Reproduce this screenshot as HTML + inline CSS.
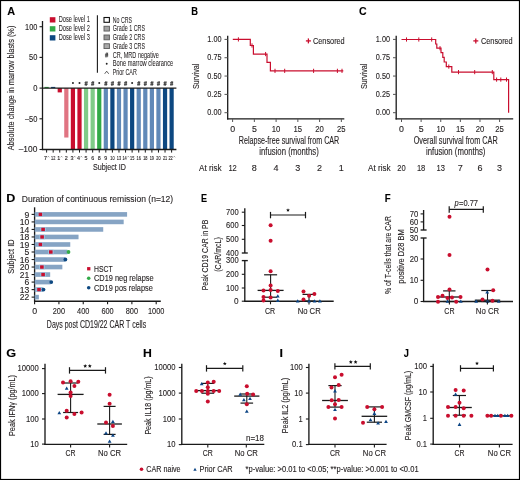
<!DOCTYPE html>
<html><head><meta charset="utf-8"><style>
html,body{margin:0;padding:0;background:#fff;}
body{width:520px;height:480px;overflow:hidden;}
svg{display:block;font-family:"Liberation Sans",sans-serif;-webkit-font-smoothing:antialiased;will-change:transform;}
text{stroke:currentColor;stroke-width:0.12px;}
text.sm{stroke-width:0.06px;}
</style></head><body>
<svg width="520" height="480" viewBox="0 0 520 480" fill="#231f20" color="#231f20">
<rect x="0" y="0" width="520" height="480" fill="#fff"/>
<text x="7.23" y="15" font-size="11.1" textLength="7.86" lengthAdjust="spacingAndGlyphs" font-weight="bold" fill="#000" stroke="#000">A</text>
<line x1="42.5" y1="21" x2="42.5" y2="150.1" stroke="#1a1a1a" stroke-width="1.3"/>
<line x1="39.5" y1="26.7" x2="42.5" y2="26.7" stroke="#1a1a1a" stroke-width="1.1"/>
<text x="37.4" y="29.6" font-size="8.6" text-anchor="end" textLength="12.3" lengthAdjust="spacingAndGlyphs">100</text>
<line x1="39.5" y1="57.4" x2="42.5" y2="57.4" stroke="#1a1a1a" stroke-width="1.1"/>
<text x="37.4" y="60.3" font-size="8.6" text-anchor="end" textLength="8.3" lengthAdjust="spacingAndGlyphs">50</text>
<line x1="39.5" y1="88.1" x2="42.5" y2="88.1" stroke="#1a1a1a" stroke-width="1.1"/>
<text x="37.4" y="91" font-size="8.6" text-anchor="end" textLength="4.2" lengthAdjust="spacingAndGlyphs">0</text>
<line x1="39.5" y1="118.8" x2="42.5" y2="118.8" stroke="#1a1a1a" stroke-width="1.1"/>
<text x="37.4" y="121.7" font-size="8.6" text-anchor="end" textLength="12.5" lengthAdjust="spacingAndGlyphs">–50</text>
<line x1="39.5" y1="149.5" x2="42.5" y2="149.5" stroke="#1a1a1a" stroke-width="1.1"/>
<text x="37.4" y="152.4" font-size="8.6" text-anchor="end" textLength="18.7" lengthAdjust="spacingAndGlyphs">–100</text>
<text x="14.3" y="87.9" font-size="9.2" text-anchor="middle" textLength="124.6" lengthAdjust="spacingAndGlyphs" transform="rotate(-90 14.3 87.9)">Absolute change in marrow blasts (%)</text>
<rect x="44.5" y="86.9" width="4.2" height="1.2" fill="#32aa48"/>
<line x1="46.6" y1="149.5" x2="46.6" y2="152.6" stroke="#1a1a1a" stroke-width="1"/>
<text x="45.6" y="159.8" font-size="5.4" text-anchor="middle">7</text>
<path d="M47.5 157.3 L48.4 156.3 L49.3 157.3" stroke="#444" stroke-width="0.5" fill="none"/>
<rect x="51.08" y="86.9" width="4.2" height="1.2" fill="#0d4881"/>
<line x1="53.18" y1="149.5" x2="53.18" y2="152.6" stroke="#1a1a1a" stroke-width="1"/>
<text x="53.18" y="159.8" font-size="5.4" text-anchor="middle" textLength="4.3" lengthAdjust="spacingAndGlyphs">12</text>
<rect x="57.66" y="88.1" width="4.2" height="4.3" fill="#c90e2e"/>
<line x1="59.76" y1="149.5" x2="59.76" y2="152.6" stroke="#1a1a1a" stroke-width="1"/>
<text x="58.76" y="159.8" font-size="5.4" text-anchor="middle">1</text>
<path d="M60.66 157.3 L61.56 156.3 L62.46 157.3" stroke="#444" stroke-width="0.5" fill="none"/>
<rect x="64.24" y="88.1" width="4.2" height="49.43" fill="#e07482"/>
<line x1="66.34" y1="149.5" x2="66.34" y2="152.6" stroke="#1a1a1a" stroke-width="1"/>
<text x="66.34" y="159.8" font-size="5.4" text-anchor="middle">2</text>
<rect x="70.82" y="88.1" width="4.2" height="61.4" fill="#c90e2e"/>
<line x1="72.92" y1="149.5" x2="72.92" y2="152.6" stroke="#1a1a1a" stroke-width="1"/>
<text x="71.92" y="159.8" font-size="5.4" text-anchor="middle">3</text>
<path d="M73.82 157.3 L74.72 156.3 L75.62 157.3" stroke="#444" stroke-width="0.5" fill="none"/>
<circle cx="72.92" cy="83.1" r="1" fill="#222"/>
<rect x="77.4" y="88.1" width="4.2" height="61.4" fill="#c90e2e"/>
<line x1="79.5" y1="149.5" x2="79.5" y2="152.6" stroke="#1a1a1a" stroke-width="1"/>
<text x="78.5" y="159.8" font-size="5.4" text-anchor="middle">4</text>
<path d="M80.4 157.3 L81.3 156.3 L82.2 157.3" stroke="#444" stroke-width="0.5" fill="none"/>
<circle cx="79.5" cy="83.1" r="1" fill="#222"/>
<rect x="83.98" y="88.1" width="4.2" height="61.4" fill="#7fcb88"/>
<line x1="86.08" y1="149.5" x2="86.08" y2="152.6" stroke="#1a1a1a" stroke-width="1"/>
<text x="86.08" y="159.8" font-size="5.4" text-anchor="middle">5</text>
<path d="M85.93 81.2L85.23 85.8M87.13 81.2L86.43 85.8M84.48 82.75L87.68 82.75M84.48 84.35L87.68 84.35" stroke="#2a2a2a" stroke-width="0.75" fill="none"/>
<rect x="90.56" y="88.1" width="4.2" height="61.4" fill="#7fcb88"/>
<line x1="92.66" y1="149.5" x2="92.66" y2="152.6" stroke="#1a1a1a" stroke-width="1"/>
<text x="92.66" y="159.8" font-size="5.4" text-anchor="middle">6</text>
<path d="M92.51 81.2L91.81 85.8M93.71 81.2L93.01 85.8M91.06 82.75L94.26 82.75M91.06 84.35L94.26 84.35" stroke="#2a2a2a" stroke-width="0.75" fill="none"/>
<rect x="97.14" y="88.1" width="4.2" height="61.4" fill="#32aa48"/>
<line x1="99.24" y1="149.5" x2="99.24" y2="152.6" stroke="#1a1a1a" stroke-width="1"/>
<text x="99.24" y="159.8" font-size="5.4" text-anchor="middle">8</text>
<circle cx="99.24" cy="83.1" r="1" fill="#222"/>
<rect x="103.72" y="88.1" width="4.2" height="61.4" fill="#6089b8"/>
<line x1="105.82" y1="149.5" x2="105.82" y2="152.6" stroke="#1a1a1a" stroke-width="1"/>
<text x="105.82" y="159.8" font-size="5.4" text-anchor="middle">9</text>
<path d="M105.67 81.2L104.97 85.8M106.87 81.2L106.17 85.8M104.22 82.75L107.42 82.75M104.22 84.35L107.42 84.35" stroke="#2a2a2a" stroke-width="0.75" fill="none"/>
<rect x="110.3" y="88.1" width="4.2" height="61.4" fill="#0d4881"/>
<line x1="112.4" y1="149.5" x2="112.4" y2="152.6" stroke="#1a1a1a" stroke-width="1"/>
<text x="112.4" y="159.8" font-size="5.4" text-anchor="middle" textLength="4.3" lengthAdjust="spacingAndGlyphs">10</text>
<path d="M112.25 81.2L111.55 85.8M113.45 81.2L112.75 85.8M110.8 82.75L114 82.75M110.8 84.35L114 84.35" stroke="#2a2a2a" stroke-width="0.75" fill="none"/>
<rect x="116.88" y="88.1" width="4.2" height="61.4" fill="#6089b8"/>
<line x1="118.98" y1="149.5" x2="118.98" y2="152.6" stroke="#1a1a1a" stroke-width="1"/>
<text x="118.98" y="159.8" font-size="5.4" text-anchor="middle" textLength="4.3" lengthAdjust="spacingAndGlyphs">13</text>
<path d="M118.83 81.2L118.13 85.8M120.03 81.2L119.33 85.8M117.38 82.75L120.58 82.75M117.38 84.35L120.58 84.35" stroke="#2a2a2a" stroke-width="0.75" fill="none"/>
<rect x="123.46" y="88.1" width="4.2" height="61.4" fill="#6089b8"/>
<line x1="125.56" y1="149.5" x2="125.56" y2="152.6" stroke="#1a1a1a" stroke-width="1"/>
<text x="124.56" y="159.8" font-size="5.4" text-anchor="middle" textLength="4.3" lengthAdjust="spacingAndGlyphs">14</text>
<path d="M127.36 157.3 L128.26 156.3 L129.16 157.3" stroke="#444" stroke-width="0.5" fill="none"/>
<path d="M125.41 81.2L124.71 85.8M126.61 81.2L125.91 85.8M123.96 82.75L127.16 82.75M123.96 84.35L127.16 84.35" stroke="#2a2a2a" stroke-width="0.75" fill="none"/>
<rect x="130.04" y="88.1" width="4.2" height="61.4" fill="#0d4881"/>
<line x1="132.14" y1="149.5" x2="132.14" y2="152.6" stroke="#1a1a1a" stroke-width="1"/>
<text x="132.14" y="159.8" font-size="5.4" text-anchor="middle" textLength="4.3" lengthAdjust="spacingAndGlyphs">15</text>
<circle cx="132.14" cy="83.1" r="1" fill="#222"/>
<rect x="136.62" y="88.1" width="4.2" height="61.4" fill="#6089b8"/>
<line x1="138.72" y1="149.5" x2="138.72" y2="152.6" stroke="#1a1a1a" stroke-width="1"/>
<text x="138.72" y="159.8" font-size="5.4" text-anchor="middle" textLength="4.3" lengthAdjust="spacingAndGlyphs">16</text>
<path d="M138.57 81.2L137.87 85.8M139.77 81.2L139.07 85.8M137.12 82.75L140.32 82.75M137.12 84.35L140.32 84.35" stroke="#2a2a2a" stroke-width="0.75" fill="none"/>
<rect x="143.2" y="88.1" width="4.2" height="61.4" fill="#6089b8"/>
<line x1="145.3" y1="149.5" x2="145.3" y2="152.6" stroke="#1a1a1a" stroke-width="1"/>
<text x="145.3" y="159.8" font-size="5.4" text-anchor="middle" textLength="4.3" lengthAdjust="spacingAndGlyphs">18</text>
<path d="M145.15 81.2L144.45 85.8M146.35 81.2L145.65 85.8M143.7 82.75L146.9 82.75M143.7 84.35L146.9 84.35" stroke="#2a2a2a" stroke-width="0.75" fill="none"/>
<rect x="149.78" y="88.1" width="4.2" height="61.4" fill="#6089b8"/>
<line x1="151.88" y1="149.5" x2="151.88" y2="152.6" stroke="#1a1a1a" stroke-width="1"/>
<text x="151.88" y="159.8" font-size="5.4" text-anchor="middle" textLength="4.3" lengthAdjust="spacingAndGlyphs">19</text>
<path d="M151.73 81.2L151.03 85.8M152.93 81.2L152.23 85.8M150.28 82.75L153.48 82.75M150.28 84.35L153.48 84.35" stroke="#2a2a2a" stroke-width="0.75" fill="none"/>
<rect x="156.36" y="88.1" width="4.2" height="61.4" fill="#6089b8"/>
<line x1="158.46" y1="149.5" x2="158.46" y2="152.6" stroke="#1a1a1a" stroke-width="1"/>
<text x="158.46" y="159.8" font-size="5.4" text-anchor="middle" textLength="4.3" lengthAdjust="spacingAndGlyphs">20</text>
<path d="M158.31 81.2L157.61 85.8M159.51 81.2L158.81 85.8M156.86 82.75L160.06 82.75M156.86 84.35L160.06 84.35" stroke="#2a2a2a" stroke-width="0.75" fill="none"/>
<rect x="162.94" y="88.1" width="4.2" height="61.4" fill="#0d4881"/>
<line x1="165.04" y1="149.5" x2="165.04" y2="152.6" stroke="#1a1a1a" stroke-width="1"/>
<text x="165.04" y="159.8" font-size="5.4" text-anchor="middle" textLength="4.3" lengthAdjust="spacingAndGlyphs">21</text>
<path d="M164.89 81.2L164.19 85.8M166.09 81.2L165.39 85.8M163.44 82.75L166.64 82.75M163.44 84.35L166.64 84.35" stroke="#2a2a2a" stroke-width="0.75" fill="none"/>
<rect x="169.52" y="88.1" width="4.2" height="61.4" fill="#0d4881"/>
<line x1="171.62" y1="149.5" x2="171.62" y2="152.6" stroke="#1a1a1a" stroke-width="1"/>
<text x="170.62" y="159.8" font-size="5.4" text-anchor="middle" textLength="4.3" lengthAdjust="spacingAndGlyphs">22</text>
<path d="M173.42 157.3 L174.32 156.3 L175.22 157.3" stroke="#444" stroke-width="0.5" fill="none"/>
<path d="M171.47 81.2L170.77 85.8M172.67 81.2L171.97 85.8M170.02 82.75L173.22 82.75M170.02 84.35L173.22 84.35" stroke="#2a2a2a" stroke-width="0.75" fill="none"/>
<line x1="42.5" y1="88.1" x2="176.4" y2="88.1" stroke="#1a1a1a" stroke-width="1.3"/>
<line x1="41.85" y1="149.5" x2="176.4" y2="149.5" stroke="#1a1a1a" stroke-width="1.3"/>
<text x="109.4" y="170.3" font-size="9" text-anchor="middle" textLength="33" lengthAdjust="spacingAndGlyphs">Subject ID</text>
<rect x="49.8" y="17.2" width="5.6" height="5.3" fill="#c90e2e"/>
<text x="58.8" y="22.2" font-size="8.6" textLength="31" lengthAdjust="spacingAndGlyphs" class="sm">Dose level 1</text>
<rect x="49.8" y="26.2" width="5.6" height="5.3" fill="#32aa48"/>
<text x="58.8" y="31.2" font-size="8.6" textLength="31" lengthAdjust="spacingAndGlyphs" class="sm">Dose level 2</text>
<rect x="49.8" y="35.2" width="5.6" height="5.3" fill="#0d4881"/>
<text x="58.8" y="40.2" font-size="8.6" textLength="31" lengthAdjust="spacingAndGlyphs" class="sm">Dose level 3</text>
<line x1="97.4" y1="15.2" x2="97.4" y2="72.8" stroke="#1a1a1a" stroke-width="1.1"/>
<rect x="104" y="17.5" width="5.4" height="4.8" fill="#fff" stroke="#111" stroke-width="1.1"/>
<text x="112.7" y="22.6" font-size="8.8" textLength="19.3" lengthAdjust="spacingAndGlyphs" class="sm">No CRS</text>
<rect x="104" y="26.25" width="5.4" height="4.8" fill="#a4a4a4" stroke="#5a5a5a" stroke-width="0.9"/>
<text x="112.7" y="31.35" font-size="8.8" textLength="32.3" lengthAdjust="spacingAndGlyphs" class="sm">Grade 1 CRS</text>
<rect x="104" y="35" width="5.4" height="4.8" fill="#999" stroke="#5a5a5a" stroke-width="0.9"/>
<text x="112.7" y="40.1" font-size="8.8" textLength="32.3" lengthAdjust="spacingAndGlyphs" class="sm">Grade 2 CRS</text>
<rect x="104" y="43.75" width="5.4" height="4.8" fill="#aaa" stroke="#5a5a5a" stroke-width="0.9"/>
<text x="112.7" y="48.85" font-size="8.8" textLength="32.3" lengthAdjust="spacingAndGlyphs" class="sm">Grade 3 CRS</text>
<path d="M106.45 52.6L105.75 57.4M107.65 52.6L106.95 57.4M104.95 54.25L108.25 54.25M104.95 55.85L108.25 55.85" stroke="#2a2a2a" stroke-width="0.75" fill="none"/>
<text x="112.7" y="57.6" font-size="8.8" textLength="46.1" lengthAdjust="spacingAndGlyphs" class="sm">CR, MRD negative</text>
<circle cx="106.7" cy="63.75" r="0.95" fill="#222"/>
<text x="112.7" y="66.35" font-size="8.8" textLength="60.5" lengthAdjust="spacingAndGlyphs" class="sm">Bone marrow clearance</text>
<path d="M104.7 73.8 L106.7 71.2 L108.7 73.8" stroke="#333" stroke-width="0.8" fill="none"/>
<text x="112.7" y="75.1" font-size="8.8" textLength="24.1" lengthAdjust="spacingAndGlyphs" class="sm">Prior CAR</text>
<text x="191.27" y="15" font-size="11.1" textLength="6.75" lengthAdjust="spacingAndGlyphs" font-weight="bold" fill="#000" stroke="#000">B</text>
<line x1="227.7" y1="35.8" x2="227.7" y2="119.5" stroke="#1a1a1a" stroke-width="1.3"/>
<line x1="227.05" y1="118.9" x2="344.3" y2="118.9" stroke="#1a1a1a" stroke-width="1.3"/>
<line x1="224.5" y1="39.4" x2="227.7" y2="39.4" stroke="#555" stroke-width="1"/>
<text x="221.5" y="41.9" font-size="8.9" text-anchor="end" textLength="14.2" lengthAdjust="spacingAndGlyphs">1.00</text>
<line x1="224.5" y1="57.72" x2="227.7" y2="57.72" stroke="#555" stroke-width="1"/>
<text x="221.5" y="60.22" font-size="8.9" text-anchor="end" textLength="14.2" lengthAdjust="spacingAndGlyphs">0.75</text>
<line x1="224.5" y1="76.05" x2="227.7" y2="76.05" stroke="#555" stroke-width="1"/>
<text x="221.5" y="78.55" font-size="8.9" text-anchor="end" textLength="14.2" lengthAdjust="spacingAndGlyphs">0.50</text>
<line x1="224.5" y1="94.38" x2="227.7" y2="94.38" stroke="#555" stroke-width="1"/>
<text x="221.5" y="96.88" font-size="8.9" text-anchor="end" textLength="14.2" lengthAdjust="spacingAndGlyphs">0.25</text>
<line x1="224.5" y1="112.7" x2="227.7" y2="112.7" stroke="#555" stroke-width="1"/>
<text x="221.5" y="115.2" font-size="8.9" text-anchor="end" textLength="14.2" lengthAdjust="spacingAndGlyphs">0.00</text>
<line x1="232.6" y1="118.9" x2="232.6" y2="122" stroke="#555" stroke-width="1"/>
<text x="232.6" y="131.5" font-size="8.8" text-anchor="middle">0</text>
<line x1="254.35" y1="118.9" x2="254.35" y2="122" stroke="#555" stroke-width="1"/>
<text x="254.35" y="131.5" font-size="8.8" text-anchor="middle">5</text>
<line x1="276.1" y1="118.9" x2="276.1" y2="122" stroke="#555" stroke-width="1"/>
<text x="276.1" y="131.5" font-size="8.8" text-anchor="middle" textLength="8.6" lengthAdjust="spacingAndGlyphs">10</text>
<line x1="297.85" y1="118.9" x2="297.85" y2="122" stroke="#555" stroke-width="1"/>
<text x="297.85" y="131.5" font-size="8.8" text-anchor="middle" textLength="8.6" lengthAdjust="spacingAndGlyphs">15</text>
<line x1="319.6" y1="118.9" x2="319.6" y2="122" stroke="#555" stroke-width="1"/>
<text x="319.6" y="131.5" font-size="8.8" text-anchor="middle" textLength="8.6" lengthAdjust="spacingAndGlyphs">20</text>
<line x1="341.35" y1="118.9" x2="341.35" y2="122" stroke="#555" stroke-width="1"/>
<text x="341.35" y="131.5" font-size="8.8" text-anchor="middle" textLength="8.6" lengthAdjust="spacingAndGlyphs">25</text>
<text x="198.8" y="76.3" font-size="9.2" text-anchor="middle" textLength="25.5" lengthAdjust="spacingAndGlyphs" transform="rotate(-90 198.8 76.3)">Survival</text>
<text x="289" y="143.7" font-size="10" text-anchor="middle" textLength="100.5" lengthAdjust="spacingAndGlyphs">Relapse-free survival from CAR</text>
<text x="289" y="154.5" font-size="10" text-anchor="middle" textLength="59.5" lengthAdjust="spacingAndGlyphs">infusion (months)</text>
<text x="199" y="170.6" font-size="9" textLength="22.6" lengthAdjust="spacingAndGlyphs">At risk</text>
<text x="232.6" y="170.6" font-size="9" text-anchor="middle" textLength="8.4" lengthAdjust="spacingAndGlyphs">12</text>
<text x="254.35" y="170.6" font-size="9" text-anchor="middle">8</text>
<text x="276.1" y="170.6" font-size="9" text-anchor="middle">4</text>
<text x="297.85" y="170.6" font-size="9" text-anchor="middle">3</text>
<text x="319.6" y="170.6" font-size="9" text-anchor="middle">2</text>
<text x="341.35" y="170.6" font-size="9" text-anchor="middle">1</text>
<path d="M232.8 39.4 L250.3 39.4 L250.3 45.48 L253.4 45.48 L253.4 54.06 L267 54.06 L267 62.42 L270.4 62.42 L270.4 70.85 L343.3 70.85" stroke="#c90e2e" stroke-width="1.2" fill="none"/>
<line x1="238.4" y1="37.3" x2="238.4" y2="41.5" stroke="#c90e2e" stroke-width="1"/>
<line x1="252" y1="43.38" x2="252" y2="47.58" stroke="#c90e2e" stroke-width="1"/>
<line x1="265.6" y1="51.96" x2="265.6" y2="56.16" stroke="#c90e2e" stroke-width="1"/>
<line x1="275" y1="68.75" x2="275" y2="72.95" stroke="#c90e2e" stroke-width="1"/>
<line x1="284.7" y1="68.75" x2="284.7" y2="72.95" stroke="#c90e2e" stroke-width="1"/>
<line x1="313.6" y1="68.75" x2="313.6" y2="72.95" stroke="#c90e2e" stroke-width="1"/>
<line x1="337.4" y1="68.75" x2="337.4" y2="72.95" stroke="#c90e2e" stroke-width="1"/>
<line x1="342" y1="68.75" x2="342" y2="72.95" stroke="#c90e2e" stroke-width="1"/>
<line x1="305.9" y1="40.9" x2="310.9" y2="40.9" stroke="#c90e2e" stroke-width="1.3"/>
<line x1="308.4" y1="38.4" x2="308.4" y2="43.4" stroke="#c90e2e" stroke-width="1.3"/>
<text x="313" y="43.9" font-size="8.8" textLength="31.7" lengthAdjust="spacingAndGlyphs">Censored</text>
<text x="359.07" y="15" font-size="11.1" textLength="7.62" lengthAdjust="spacingAndGlyphs" font-weight="bold" fill="#000" stroke="#000">C</text>
<line x1="396.2" y1="35.8" x2="396.2" y2="119.5" stroke="#1a1a1a" stroke-width="1.3"/>
<line x1="395.55" y1="118.9" x2="513.2" y2="118.9" stroke="#1a1a1a" stroke-width="1.3"/>
<line x1="393" y1="39.4" x2="396.2" y2="39.4" stroke="#555" stroke-width="1"/>
<text x="390" y="41.9" font-size="8.9" text-anchor="end" textLength="14.2" lengthAdjust="spacingAndGlyphs">1.00</text>
<line x1="393" y1="57.72" x2="396.2" y2="57.72" stroke="#555" stroke-width="1"/>
<text x="390" y="60.22" font-size="8.9" text-anchor="end" textLength="14.2" lengthAdjust="spacingAndGlyphs">0.75</text>
<line x1="393" y1="76.05" x2="396.2" y2="76.05" stroke="#555" stroke-width="1"/>
<text x="390" y="78.55" font-size="8.9" text-anchor="end" textLength="14.2" lengthAdjust="spacingAndGlyphs">0.50</text>
<line x1="393" y1="94.38" x2="396.2" y2="94.38" stroke="#555" stroke-width="1"/>
<text x="390" y="96.88" font-size="8.9" text-anchor="end" textLength="14.2" lengthAdjust="spacingAndGlyphs">0.25</text>
<line x1="393" y1="112.7" x2="396.2" y2="112.7" stroke="#555" stroke-width="1"/>
<text x="390" y="115.2" font-size="8.9" text-anchor="end" textLength="14.2" lengthAdjust="spacingAndGlyphs">0.00</text>
<line x1="401.5" y1="118.9" x2="401.5" y2="122" stroke="#555" stroke-width="1"/>
<text x="401.5" y="131.5" font-size="8.8" text-anchor="middle">0</text>
<line x1="421.12" y1="118.9" x2="421.12" y2="122" stroke="#555" stroke-width="1"/>
<text x="421.12" y="131.5" font-size="8.8" text-anchor="middle">5</text>
<line x1="440.74" y1="118.9" x2="440.74" y2="122" stroke="#555" stroke-width="1"/>
<text x="440.74" y="131.5" font-size="8.8" text-anchor="middle" textLength="8.6" lengthAdjust="spacingAndGlyphs">10</text>
<line x1="460.36" y1="118.9" x2="460.36" y2="122" stroke="#555" stroke-width="1"/>
<text x="460.36" y="131.5" font-size="8.8" text-anchor="middle" textLength="8.6" lengthAdjust="spacingAndGlyphs">15</text>
<line x1="479.98" y1="118.9" x2="479.98" y2="122" stroke="#555" stroke-width="1"/>
<text x="479.98" y="131.5" font-size="8.8" text-anchor="middle" textLength="8.6" lengthAdjust="spacingAndGlyphs">20</text>
<line x1="499.6" y1="118.9" x2="499.6" y2="122" stroke="#555" stroke-width="1"/>
<text x="499.6" y="131.5" font-size="8.8" text-anchor="middle" textLength="8.6" lengthAdjust="spacingAndGlyphs">25</text>
<text x="367.1" y="76.3" font-size="9.2" text-anchor="middle" textLength="25.5" lengthAdjust="spacingAndGlyphs" transform="rotate(-90 367.1 76.3)">Survival</text>
<text x="455.7" y="143.7" font-size="10" text-anchor="middle" textLength="84" lengthAdjust="spacingAndGlyphs">Overall survival from CAR</text>
<text x="455.7" y="154.5" font-size="10" text-anchor="middle" textLength="59.5" lengthAdjust="spacingAndGlyphs">infusion (months)</text>
<text x="368" y="170.6" font-size="9" textLength="22.6" lengthAdjust="spacingAndGlyphs">At risk</text>
<text x="401.5" y="170.6" font-size="9" text-anchor="middle" textLength="8.4" lengthAdjust="spacingAndGlyphs">20</text>
<text x="421.12" y="170.6" font-size="9" text-anchor="middle" textLength="8.4" lengthAdjust="spacingAndGlyphs">18</text>
<text x="440.74" y="170.6" font-size="9" text-anchor="middle" textLength="8.4" lengthAdjust="spacingAndGlyphs">13</text>
<text x="460.36" y="170.6" font-size="9" text-anchor="middle">7</text>
<text x="479.98" y="170.6" font-size="9" text-anchor="middle">6</text>
<text x="499.6" y="170.6" font-size="9" text-anchor="middle">3</text>
<path d="M401.5 39.5 L435.7 39.5 L435.7 44 L436.8 44 L436.8 48.2 L441 48.2 L441 52.6 L442.8 52.6 L442.8 57.3 L444.2 57.3 L444.2 62 L446.3 62 L446.3 66.6 L451.8 66.6 L451.8 72.1 L493.8 72.1 L493.8 79.6 L508.6 79.6 L508.6 112.7" stroke="#c90e2e" stroke-width="1.2" fill="none"/>
<line x1="406.5" y1="37.4" x2="406.5" y2="41.6" stroke="#c90e2e" stroke-width="1"/>
<line x1="418.8" y1="37.4" x2="418.8" y2="41.6" stroke="#c90e2e" stroke-width="1"/>
<line x1="431.7" y1="37.4" x2="431.7" y2="41.6" stroke="#c90e2e" stroke-width="1"/>
<line x1="440" y1="46.1" x2="440" y2="50.3" stroke="#c90e2e" stroke-width="1"/>
<line x1="448.8" y1="64.5" x2="448.8" y2="68.7" stroke="#c90e2e" stroke-width="1"/>
<line x1="458.5" y1="70" x2="458.5" y2="74.2" stroke="#c90e2e" stroke-width="1"/>
<line x1="474.7" y1="70" x2="474.7" y2="74.2" stroke="#c90e2e" stroke-width="1"/>
<line x1="492.3" y1="70" x2="492.3" y2="74.2" stroke="#c90e2e" stroke-width="1"/>
<line x1="496.6" y1="77.5" x2="496.6" y2="81.7" stroke="#c90e2e" stroke-width="1"/>
<line x1="500.8" y1="77.5" x2="500.8" y2="81.7" stroke="#c90e2e" stroke-width="1"/>
<line x1="506.5" y1="77.5" x2="506.5" y2="81.7" stroke="#c90e2e" stroke-width="1"/>
<line x1="473.3" y1="40.9" x2="478.3" y2="40.9" stroke="#c90e2e" stroke-width="1.3"/>
<line x1="475.8" y1="38.4" x2="475.8" y2="43.4" stroke="#c90e2e" stroke-width="1.3"/>
<text x="481" y="43.9" font-size="8.8" textLength="31.7" lengthAdjust="spacingAndGlyphs">Censored</text>
<text x="6.36" y="201.7" font-size="11.1" textLength="9.07" lengthAdjust="spacingAndGlyphs" font-weight="bold" fill="#000" stroke="#000">D</text>
<text x="21.8" y="202.2" font-size="9.6" textLength="151.4" lengthAdjust="spacingAndGlyphs">Duration of continuous remission (n=12)</text>
<line x1="34.6" y1="207.3" x2="34.6" y2="301.8" stroke="#1a1a1a" stroke-width="1.35"/>
<line x1="34" y1="301.2" x2="160.8" y2="301.2" stroke="#1a1a1a" stroke-width="1.35"/>
<rect x="34.6" y="212.1" width="92.49" height="4.6" fill="#86a4c4"/>
<line x1="31.6" y1="214.4" x2="34.6" y2="214.4" stroke="#1a1a1a" stroke-width="1.1"/>
<text x="29.4" y="217.6" font-size="8.6" text-anchor="end">9</text>
<rect x="37.7" y="212.1" width="5.4" height="4.6" fill="#9cc6e2"/>
<rect x="38.6" y="212.7" width="3.6" height="3.4" fill="#c90e2e"/>
<rect x="34.6" y="219.62" width="89.08" height="4.6" fill="#86a4c4"/>
<line x1="31.6" y1="221.92" x2="34.6" y2="221.92" stroke="#1a1a1a" stroke-width="1.1"/>
<text x="29.4" y="225.12" font-size="8.6" text-anchor="end">10</text>
<rect x="34.6" y="227.14" width="68.64" height="4.6" fill="#86a4c4"/>
<line x1="31.6" y1="229.44" x2="34.6" y2="229.44" stroke="#1a1a1a" stroke-width="1.1"/>
<text x="29.4" y="232.64" font-size="8.6" text-anchor="end">14</text>
<rect x="40.4" y="227.14" width="5.4" height="4.6" fill="#9cc6e2"/>
<rect x="41.3" y="227.74" width="3.6" height="3.4" fill="#c90e2e"/>
<rect x="34.6" y="234.66" width="43.93" height="4.6" fill="#86a4c4"/>
<line x1="31.6" y1="236.96" x2="34.6" y2="236.96" stroke="#1a1a1a" stroke-width="1.1"/>
<text x="29.4" y="240.16" font-size="8.6" text-anchor="end">18</text>
<rect x="39.4" y="234.66" width="5.4" height="4.6" fill="#9cc6e2"/>
<rect x="40.3" y="235.26" width="3.6" height="3.4" fill="#c90e2e"/>
<rect x="34.6" y="242.18" width="35.66" height="4.6" fill="#86a4c4"/>
<line x1="31.6" y1="244.48" x2="34.6" y2="244.48" stroke="#1a1a1a" stroke-width="1.1"/>
<text x="29.4" y="247.68" font-size="8.6" text-anchor="end">19</text>
<rect x="37.7" y="242.18" width="5.4" height="4.6" fill="#9cc6e2"/>
<rect x="38.6" y="242.78" width="3.6" height="3.4" fill="#c90e2e"/>
<rect x="34.6" y="249.7" width="32.86" height="4.6" fill="#86a4c4"/>
<line x1="31.6" y1="252" x2="34.6" y2="252" stroke="#1a1a1a" stroke-width="1.1"/>
<text x="29.4" y="255.2" font-size="8.6" text-anchor="end">5</text>
<rect x="48.1" y="249.7" width="5.4" height="4.6" fill="#9cc6e2"/>
<rect x="49" y="250.3" width="3.6" height="3.4" fill="#c90e2e"/>
<circle cx="68.5" cy="252" r="1.9" fill="#32aa48"/>
<rect x="34.6" y="257.22" width="30.43" height="4.6" fill="#86a4c4"/>
<line x1="31.6" y1="259.52" x2="34.6" y2="259.52" stroke="#1a1a1a" stroke-width="1.1"/>
<text x="29.4" y="262.72" font-size="8.6" text-anchor="end">16</text>
<circle cx="65.4" cy="259.52" r="1.9" fill="#0d4881"/>
<rect x="34.6" y="264.74" width="27.75" height="4.6" fill="#86a4c4"/>
<line x1="31.6" y1="267.04" x2="34.6" y2="267.04" stroke="#1a1a1a" stroke-width="1.1"/>
<text x="29.4" y="270.24" font-size="8.6" text-anchor="end">20</text>
<rect x="39.2" y="264.74" width="5.4" height="4.6" fill="#9cc6e2"/>
<rect x="40.1" y="265.34" width="3.6" height="3.4" fill="#c90e2e"/>
<rect x="34.6" y="272.26" width="15.58" height="4.6" fill="#86a4c4"/>
<line x1="31.6" y1="274.56" x2="34.6" y2="274.56" stroke="#1a1a1a" stroke-width="1.1"/>
<text x="29.4" y="277.76" font-size="8.6" text-anchor="end">21</text>
<rect x="40.4" y="272.26" width="5.4" height="4.6" fill="#9cc6e2"/>
<rect x="41.3" y="272.86" width="3.6" height="3.4" fill="#c90e2e"/>
<rect x="34.6" y="279.78" width="16.06" height="4.6" fill="#86a4c4"/>
<line x1="31.6" y1="282.08" x2="34.6" y2="282.08" stroke="#1a1a1a" stroke-width="1.1"/>
<text x="29.4" y="285.28" font-size="8.6" text-anchor="end">6</text>
<circle cx="51.25" cy="282.08" r="1.9" fill="#0d4881"/>
<rect x="34.6" y="287.3" width="8.52" height="4.6" fill="#86a4c4"/>
<line x1="31.6" y1="289.6" x2="34.6" y2="289.6" stroke="#1a1a1a" stroke-width="1.1"/>
<text x="29.4" y="292.8" font-size="8.6" text-anchor="end">13</text>
<rect x="36.3" y="287.3" width="5.4" height="4.6" fill="#9cc6e2"/>
<rect x="37.2" y="287.9" width="3.6" height="3.4" fill="#c90e2e"/>
<circle cx="43.5" cy="289.6" r="1.9" fill="#0d4881"/>
<rect x="34.6" y="294.82" width="4.26" height="4.6" fill="#86a4c4"/>
<line x1="31.6" y1="297.12" x2="34.6" y2="297.12" stroke="#1a1a1a" stroke-width="1.1"/>
<text x="29.4" y="300.32" font-size="8.6" text-anchor="end">22</text>
<line x1="34.6" y1="301.2" x2="34.6" y2="304.2" stroke="#1a1a1a" stroke-width="1.1"/>
<text x="34.6" y="314" font-size="8.8" text-anchor="middle">0</text>
<line x1="58.92" y1="301.2" x2="58.92" y2="304.2" stroke="#1a1a1a" stroke-width="1.1"/>
<text x="58.92" y="314" font-size="8.8" text-anchor="middle" textLength="12.3" lengthAdjust="spacingAndGlyphs">200</text>
<line x1="83.24" y1="301.2" x2="83.24" y2="304.2" stroke="#1a1a1a" stroke-width="1.1"/>
<text x="83.24" y="314" font-size="8.8" text-anchor="middle" textLength="12.3" lengthAdjust="spacingAndGlyphs">400</text>
<line x1="107.56" y1="301.2" x2="107.56" y2="304.2" stroke="#1a1a1a" stroke-width="1.1"/>
<text x="107.56" y="314" font-size="8.8" text-anchor="middle" textLength="12.3" lengthAdjust="spacingAndGlyphs">600</text>
<line x1="131.88" y1="301.2" x2="131.88" y2="304.2" stroke="#1a1a1a" stroke-width="1.1"/>
<text x="131.88" y="314" font-size="8.8" text-anchor="middle" textLength="12.3" lengthAdjust="spacingAndGlyphs">800</text>
<line x1="156.2" y1="301.2" x2="156.2" y2="304.2" stroke="#1a1a1a" stroke-width="1.1"/>
<text x="156.2" y="314" font-size="8.8" text-anchor="middle" textLength="16.4" lengthAdjust="spacingAndGlyphs">1000</text>
<text x="14" y="256.6" font-size="9.6" text-anchor="middle" textLength="34.4" lengthAdjust="spacingAndGlyphs" transform="rotate(-90 14 256.6)">Subject ID</text>
<text x="96.5" y="327.5" font-size="10.2" text-anchor="middle" textLength="99.3" lengthAdjust="spacingAndGlyphs">Days post CD19/22 CAR T cells</text>
<rect x="87.1" y="267.1" width="3.3" height="3.3" fill="#c90e2e"/>
<text x="94" y="271.8" font-size="9" textLength="18.6" lengthAdjust="spacingAndGlyphs">HSCT</text>
<circle cx="88.7" cy="278.3" r="1.8" fill="#32aa48"/>
<text x="94" y="281.4" font-size="9" textLength="59.6" lengthAdjust="spacingAndGlyphs">CD19 neg relapse</text>
<circle cx="88.7" cy="287.8" r="1.8" fill="#0d4881"/>
<text x="94" y="290.9" font-size="9" textLength="58.8" lengthAdjust="spacingAndGlyphs">CD19 pos relapse</text>
<text x="200.99" y="201.7" font-size="11.1" textLength="6.06" lengthAdjust="spacingAndGlyphs" font-weight="bold" fill="#000" stroke="#000">E</text>
<line x1="244.8" y1="208.3" x2="244.8" y2="253" stroke="#1a1a1a" stroke-width="1.35"/>
<line x1="241.8" y1="253" x2="247.8" y2="253" stroke="#1a1a1a" stroke-width="1.35"/>
<line x1="241.8" y1="260.6" x2="247.8" y2="260.6" stroke="#1a1a1a" stroke-width="1.35"/>
<line x1="244.8" y1="260.6" x2="244.8" y2="301.8" stroke="#1a1a1a" stroke-width="1.35"/>
<line x1="244.2" y1="301.2" x2="333.7" y2="301.2" stroke="#1a1a1a" stroke-width="1.35"/>
<line x1="241.8" y1="212.2" x2="244.8" y2="212.2" stroke="#1a1a1a" stroke-width="1.1"/>
<text x="238.6" y="215" font-size="9.2" text-anchor="end" textLength="12.6" lengthAdjust="spacingAndGlyphs">700</text>
<line x1="241.8" y1="225.5" x2="244.8" y2="225.5" stroke="#1a1a1a" stroke-width="1.1"/>
<text x="238.6" y="228.3" font-size="9.2" text-anchor="end" textLength="12.6" lengthAdjust="spacingAndGlyphs">600</text>
<line x1="241.8" y1="239.3" x2="244.8" y2="239.3" stroke="#1a1a1a" stroke-width="1.1"/>
<text x="238.6" y="242.1" font-size="9.2" text-anchor="end" textLength="12.6" lengthAdjust="spacingAndGlyphs">500</text>
<text x="238.6" y="255.8" font-size="9.2" text-anchor="end" textLength="12.6" lengthAdjust="spacingAndGlyphs">400</text>
<text x="238.6" y="263.4" font-size="9.2" text-anchor="end" textLength="12.6" lengthAdjust="spacingAndGlyphs">300</text>
<line x1="241.8" y1="274.3" x2="244.8" y2="274.3" stroke="#1a1a1a" stroke-width="1.1"/>
<text x="238.6" y="277.1" font-size="9.2" text-anchor="end" textLength="12.6" lengthAdjust="spacingAndGlyphs">200</text>
<line x1="241.8" y1="288" x2="244.8" y2="288" stroke="#1a1a1a" stroke-width="1.1"/>
<text x="238.6" y="290.8" font-size="9.2" text-anchor="end" textLength="12.6" lengthAdjust="spacingAndGlyphs">100</text>
<line x1="241.8" y1="301.2" x2="244.8" y2="301.2" stroke="#1a1a1a" stroke-width="1.1"/>
<text x="238.6" y="304" font-size="9.2" text-anchor="end" textLength="4.6" lengthAdjust="spacingAndGlyphs">0</text>
<text x="208.3" y="255" font-size="9.6" text-anchor="middle" textLength="70.6" lengthAdjust="spacingAndGlyphs" transform="rotate(-90 208.3 255)">Peak CD19 CAR in PB</text>
<text x="221.2" y="254.5" font-size="9.6" text-anchor="middle" textLength="34.4" lengthAdjust="spacingAndGlyphs" transform="rotate(-90 221.2 254.5)">(CAR/mcL)</text>
<line x1="270.6" y1="274.8" x2="270.6" y2="297.2" stroke="#1a1a1a" stroke-width="1.1"/>
<line x1="264.1" y1="274.8" x2="277.1" y2="274.8" stroke="#1a1a1a" stroke-width="1.2"/>
<line x1="264.1" y1="297.2" x2="277.1" y2="297.2" stroke="#1a1a1a" stroke-width="1.2"/>
<line x1="257.6" y1="290.4" x2="283.6" y2="290.4" stroke="#1a1a1a" stroke-width="1.3"/>
<circle cx="270.6" cy="225.3" r="2" fill="#c90e2e"/>
<circle cx="270.6" cy="240.7" r="2" fill="#c90e2e"/>
<circle cx="270.6" cy="271.3" r="2" fill="#c90e2e"/>
<circle cx="270.6" cy="285.4" r="2" fill="#c90e2e"/>
<circle cx="263.5" cy="290.4" r="2" fill="#c90e2e"/>
<circle cx="270.6" cy="289.9" r="2" fill="#c90e2e"/>
<circle cx="277.8" cy="291" r="2" fill="#c90e2e"/>
<circle cx="263.5" cy="297" r="2" fill="#c90e2e"/>
<circle cx="270.6" cy="297.5" r="2" fill="#c90e2e"/>
<circle cx="263.5" cy="300.6" r="2" fill="#c90e2e"/>
<path d="M277.8 294.22L279.7 297.52L275.9 297.52Z" fill="#0c4585"/>
<path d="M277.8 298.62L279.7 301.92L275.9 301.92Z" fill="#0c4585"/>
<line x1="309" y1="294.4" x2="309" y2="304.4" stroke="#1a1a1a" stroke-width="1.1"/>
<line x1="302.5" y1="294.4" x2="315.5" y2="294.4" stroke="#1a1a1a" stroke-width="1.2"/>
<line x1="303" y1="301.2" x2="315" y2="301.2" stroke="#1a1a1a" stroke-width="1.5"/>
<circle cx="303.5" cy="291.4" r="2" fill="#c90e2e"/>
<circle cx="309.1" cy="295.7" r="2" fill="#c90e2e"/>
<circle cx="314.4" cy="294.1" r="2" fill="#c90e2e"/>
<circle cx="303.5" cy="299.6" r="2" fill="#c90e2e"/>
<path d="M297.7 299.22L299.6 302.52L295.8 302.52Z" fill="#0c4585"/>
<path d="M309.1 299.22L311 302.52L307.2 302.52Z" fill="#0c4585"/>
<path d="M314.6 299.22L316.5 302.52L312.7 302.52Z" fill="#0c4585"/>
<path d="M319.9 299.22L321.8 302.52L318 302.52Z" fill="#0c4585"/>
<line x1="270.5" y1="215" x2="305.5" y2="215" stroke="#1a1a1a" stroke-width="1.2"/>
<line x1="270.5" y1="211.9" x2="270.5" y2="218.3" stroke="#1a1a1a" stroke-width="1.2"/>
<line x1="305.5" y1="211.9" x2="305.5" y2="218.3" stroke="#1a1a1a" stroke-width="1.2"/>
<path d="M288 208.2 L288.53 209.47 L289.9 209.58 L288.86 210.48 L289.18 211.82 L288 211.1 L286.82 211.82 L287.14 210.48 L286.1 209.58 L287.47 209.47Z" fill="#111"/>
<text x="270.1" y="313.7" font-size="9" text-anchor="middle" textLength="10.2" lengthAdjust="spacingAndGlyphs">CR</text>
<text x="309.2" y="313.7" font-size="9" text-anchor="middle" textLength="23.1" lengthAdjust="spacingAndGlyphs">No CR</text>
<line x1="270.5" y1="301.2" x2="270.5" y2="304.3" stroke="#1a1a1a" stroke-width="1.1"/>
<text x="384.65" y="201.7" font-size="11.1" textLength="5.9" lengthAdjust="spacingAndGlyphs" font-weight="bold" fill="#000" stroke="#000">F</text>
<line x1="423.6" y1="210" x2="423.6" y2="230" stroke="#1a1a1a" stroke-width="1.35"/>
<line x1="420.6" y1="230" x2="426.6" y2="230" stroke="#1a1a1a" stroke-width="1.35"/>
<line x1="420.6" y1="238" x2="426.6" y2="238" stroke="#1a1a1a" stroke-width="1.35"/>
<line x1="423.6" y1="238" x2="423.6" y2="301.9" stroke="#1a1a1a" stroke-width="1.35"/>
<line x1="423" y1="301.5" x2="513" y2="301.5" stroke="#1a1a1a" stroke-width="1.35"/>
<line x1="420.6" y1="213.9" x2="423.6" y2="213.9" stroke="#1a1a1a" stroke-width="1.1"/>
<text x="418.4" y="216.6" font-size="9.2" text-anchor="end" textLength="8.6" lengthAdjust="spacingAndGlyphs">70</text>
<line x1="420.6" y1="221.9" x2="423.6" y2="221.9" stroke="#1a1a1a" stroke-width="1.1"/>
<text x="418.4" y="224.6" font-size="9.2" text-anchor="end" textLength="8.6" lengthAdjust="spacingAndGlyphs">60</text>
<text x="418.4" y="232.7" font-size="9.2" text-anchor="end" textLength="8.6" lengthAdjust="spacingAndGlyphs">50</text>
<text x="418.4" y="240.7" font-size="9.2" text-anchor="end" textLength="8.6" lengthAdjust="spacingAndGlyphs">30</text>
<line x1="420.6" y1="259" x2="423.6" y2="259" stroke="#1a1a1a" stroke-width="1.1"/>
<text x="418.4" y="261.7" font-size="9.2" text-anchor="end" textLength="8.6" lengthAdjust="spacingAndGlyphs">20</text>
<line x1="420.6" y1="280.3" x2="423.6" y2="280.3" stroke="#1a1a1a" stroke-width="1.1"/>
<text x="418.4" y="283" font-size="9.2" text-anchor="end" textLength="8.6" lengthAdjust="spacingAndGlyphs">10</text>
<line x1="420.6" y1="301.5" x2="423.6" y2="301.5" stroke="#1a1a1a" stroke-width="1.1"/>
<text x="418.4" y="304.2" font-size="9.2" text-anchor="end" textLength="4.6" lengthAdjust="spacingAndGlyphs">0</text>
<text x="391.3" y="255" font-size="9.2" text-anchor="middle" textLength="78" lengthAdjust="spacingAndGlyphs" transform="rotate(-90 391.3 255)">% of T-cells that are CAR</text>
<text x="403.6" y="256.5" font-size="9.2" text-anchor="middle" textLength="54.3" lengthAdjust="spacingAndGlyphs" transform="rotate(-90 403.6 256.5)">positive D28 BM</text>
<line x1="449.3" y1="290.9" x2="449.3" y2="301.5" stroke="#1a1a1a" stroke-width="1.1"/>
<line x1="443.1" y1="290.9" x2="455.5" y2="290.9" stroke="#1a1a1a" stroke-width="1.2"/>
<line x1="443.1" y1="301.5" x2="455.5" y2="301.5" stroke="#1a1a1a" stroke-width="1.2"/>
<line x1="437.1" y1="297" x2="461.5" y2="297" stroke="#1a1a1a" stroke-width="1.3"/>
<circle cx="449.5" cy="216.8" r="2" fill="#c90e2e"/>
<circle cx="449.5" cy="255" r="2" fill="#c90e2e"/>
<circle cx="449.5" cy="289.5" r="2" fill="#c90e2e"/>
<circle cx="438" cy="297" r="2" fill="#c90e2e"/>
<circle cx="442.5" cy="295.8" r="2" fill="#c90e2e"/>
<circle cx="447.5" cy="298" r="2" fill="#c90e2e"/>
<circle cx="452" cy="297.5" r="2" fill="#c90e2e"/>
<circle cx="460.5" cy="297" r="2" fill="#c90e2e"/>
<circle cx="438" cy="301.7" r="2" fill="#c90e2e"/>
<circle cx="456.2" cy="301.7" r="2" fill="#c90e2e"/>
<path d="M447.5 299.52L449.4 302.82L445.6 302.82Z" fill="#0c4585"/>
<path d="M460.8 299.52L462.7 302.82L458.9 302.82Z" fill="#0c4585"/>
<line x1="487.5" y1="290.5" x2="487.5" y2="301.5" stroke="#1a1a1a" stroke-width="1.1"/>
<line x1="481.3" y1="290.5" x2="493.7" y2="290.5" stroke="#1a1a1a" stroke-width="1.2"/>
<line x1="481.3" y1="301.5" x2="493.7" y2="301.5" stroke="#1a1a1a" stroke-width="1.2"/>
<line x1="474.8" y1="300.2" x2="500.2" y2="300.2" stroke="#1a1a1a" stroke-width="1.3"/>
<circle cx="487.5" cy="269.5" r="2" fill="#c90e2e"/>
<circle cx="493.2" cy="290.3" r="2" fill="#c90e2e"/>
<circle cx="482.5" cy="299.5" r="2" fill="#c90e2e"/>
<circle cx="492.5" cy="300.7" r="2" fill="#c90e2e"/>
<path d="M476.2 299.52L478.1 302.82L474.3 302.82Z" fill="#0c4585"/>
<path d="M487.2 290.22L489.1 293.52L485.3 293.52Z" fill="#0c4585"/>
<path d="M487.5 299.52L489.4 302.82L485.6 302.82Z" fill="#0c4585"/>
<path d="M498.7 299.52L500.6 302.82L496.8 302.82Z" fill="#0c4585"/>
<line x1="449.2" y1="209.4" x2="483.3" y2="209.4" stroke="#1a1a1a" stroke-width="1.2"/>
<line x1="449.2" y1="206.3" x2="449.2" y2="212.7" stroke="#1a1a1a" stroke-width="1.2"/>
<line x1="483.3" y1="206.3" x2="483.3" y2="212.7" stroke="#1a1a1a" stroke-width="1.2"/>
<text x="454.4" y="205.8" font-size="8.6" textLength="4.2" lengthAdjust="spacingAndGlyphs" font-style="italic">p</text>
<text x="459" y="205.8" font-size="8.6" textLength="19" lengthAdjust="spacingAndGlyphs">=0.77</text>
<text x="449.4" y="313.9" font-size="9" text-anchor="middle" textLength="10.2" lengthAdjust="spacingAndGlyphs">CR</text>
<text x="487.5" y="313.9" font-size="9" text-anchor="middle" textLength="23.4" lengthAdjust="spacingAndGlyphs">No CR</text>
<line x1="449.4" y1="301.5" x2="449.4" y2="304.6" stroke="#1a1a1a" stroke-width="1.1"/>
<line x1="487.4" y1="301.5" x2="487.4" y2="304.6" stroke="#1a1a1a" stroke-width="1.1"/>
<text x="6.38" y="357" font-size="11.1" textLength="9.91" lengthAdjust="spacingAndGlyphs" font-weight="bold" fill="#000" stroke="#000">G</text>
<line x1="45" y1="363.8" x2="45" y2="444.9" stroke="#1a1a1a" stroke-width="1.35"/>
<line x1="44.4" y1="444.3" x2="127.2" y2="444.3" stroke="#1a1a1a" stroke-width="1.35"/>
<line x1="42" y1="368.6" x2="45" y2="368.6" stroke="#1a1a1a" stroke-width="1.1"/>
<text x="38.8" y="371.2" font-size="9.2" text-anchor="end" textLength="21.3" lengthAdjust="spacingAndGlyphs">10000</text>
<line x1="42" y1="393.6" x2="45" y2="393.6" stroke="#1a1a1a" stroke-width="1.1"/>
<text x="38.8" y="396.2" font-size="9.2" text-anchor="end" textLength="17" lengthAdjust="spacingAndGlyphs">1000</text>
<line x1="42" y1="419" x2="45" y2="419" stroke="#1a1a1a" stroke-width="1.1"/>
<text x="38.8" y="421.6" font-size="9.2" text-anchor="end" textLength="12.8" lengthAdjust="spacingAndGlyphs">100</text>
<line x1="42" y1="444.1" x2="45" y2="444.1" stroke="#1a1a1a" stroke-width="1.1"/>
<text x="38.8" y="446.7" font-size="9.2" text-anchor="end" textLength="8.5" lengthAdjust="spacingAndGlyphs">10</text>
<text x="14.6" y="405.5" font-size="9.2" text-anchor="middle" textLength="61" lengthAdjust="spacingAndGlyphs" transform="rotate(-90 14.6 405.5)">Peak IFNγ (pg/mL)</text>
<text x="70.6" y="456.2" font-size="9" text-anchor="middle" textLength="10" lengthAdjust="spacingAndGlyphs">CR</text>
<text x="109.6" y="456.2" font-size="9" text-anchor="middle" textLength="23.1" lengthAdjust="spacingAndGlyphs">No CR</text>
<line x1="70.6" y1="444.3" x2="70.6" y2="447.4" stroke="#1a1a1a" stroke-width="1.1"/>
<line x1="109.6" y1="444.3" x2="109.6" y2="447.4" stroke="#1a1a1a" stroke-width="1.1"/>
<line x1="70.6" y1="383" x2="70.6" y2="412.5" stroke="#1a1a1a" stroke-width="1.1"/>
<line x1="63.1" y1="383" x2="78.1" y2="383" stroke="#1a1a1a" stroke-width="1.2"/>
<line x1="63.1" y1="412.5" x2="78.1" y2="412.5" stroke="#1a1a1a" stroke-width="1.2"/>
<line x1="57.6" y1="394.4" x2="83.6" y2="394.4" stroke="#1a1a1a" stroke-width="1.3"/>
<circle cx="63" cy="382.4" r="2" fill="#c90e2e"/>
<circle cx="70.6" cy="381.3" r="2" fill="#c90e2e"/>
<circle cx="78.3" cy="381.7" r="2" fill="#c90e2e"/>
<circle cx="74.4" cy="386" r="2" fill="#c90e2e"/>
<circle cx="70.6" cy="392.6" r="2" fill="#c90e2e"/>
<circle cx="70.6" cy="396.1" r="2" fill="#c90e2e"/>
<circle cx="66.7" cy="410.8" r="2" fill="#c90e2e"/>
<circle cx="74.4" cy="414" r="2" fill="#c90e2e"/>
<circle cx="81.6" cy="412.5" r="2" fill="#c90e2e"/>
<circle cx="66.7" cy="417.4" r="2" fill="#c90e2e"/>
<path d="M66.7 386.52L68.6 389.82L64.8 389.82Z" fill="#0c4585"/>
<path d="M59.3 411.02L61.2 414.32L57.4 414.32Z" fill="#0c4585"/>
<line x1="109.6" y1="406.4" x2="109.6" y2="434.4" stroke="#1a1a1a" stroke-width="1.1"/>
<line x1="103.6" y1="406.4" x2="115.6" y2="406.4" stroke="#1a1a1a" stroke-width="1.2"/>
<line x1="103.6" y1="434.4" x2="115.6" y2="434.4" stroke="#1a1a1a" stroke-width="1.2"/>
<line x1="97.3" y1="424" x2="121.9" y2="424" stroke="#1a1a1a" stroke-width="1.3"/>
<circle cx="109.6" cy="394.8" r="2" fill="#c90e2e"/>
<circle cx="109.6" cy="403.8" r="2" fill="#c90e2e"/>
<circle cx="106" cy="422.4" r="2" fill="#c90e2e"/>
<circle cx="112.9" cy="426.1" r="2" fill="#c90e2e"/>
<path d="M112.9 419.72L114.8 423.02L111 423.02Z" fill="#0c4585"/>
<path d="M106 431.32L107.9 434.62L104.1 434.62Z" fill="#0c4585"/>
<path d="M112.9 433.52L114.8 436.82L111 436.82Z" fill="#0c4585"/>
<path d="M109.6 439.42L111.5 442.72L107.7 442.72Z" fill="#0c4585"/>
<line x1="69.5" y1="370.3" x2="105.5" y2="370.3" stroke="#1a1a1a" stroke-width="1.2"/>
<line x1="69.5" y1="367.2" x2="69.5" y2="373.6" stroke="#1a1a1a" stroke-width="1.2"/>
<line x1="105.5" y1="367.2" x2="105.5" y2="373.6" stroke="#1a1a1a" stroke-width="1.2"/>
<path d="M85.2 364.1 L85.73 365.37 L87.1 365.48 L86.06 366.38 L86.38 367.72 L85.2 367 L84.02 367.72 L84.34 366.38 L83.3 365.48 L84.67 365.37Z" fill="#111"/>
<path d="M89.8 364.1 L90.33 365.37 L91.7 365.48 L90.66 366.38 L90.98 367.72 L89.8 367 L88.62 367.72 L88.94 366.38 L87.9 365.48 L89.27 365.37Z" fill="#111"/>
<text x="143.08" y="357" font-size="11.1" textLength="8.84" lengthAdjust="spacingAndGlyphs" font-weight="bold" fill="#000" stroke="#000">H</text>
<line x1="181.8" y1="363.8" x2="181.8" y2="444.9" stroke="#1a1a1a" stroke-width="1.35"/>
<line x1="181.2" y1="444.3" x2="264.3" y2="444.3" stroke="#1a1a1a" stroke-width="1.35"/>
<line x1="178.8" y1="367.5" x2="181.8" y2="367.5" stroke="#1a1a1a" stroke-width="1.1"/>
<text x="175.6" y="370.1" font-size="9.2" text-anchor="end" textLength="21.3" lengthAdjust="spacingAndGlyphs">10000</text>
<line x1="178.8" y1="393.1" x2="181.8" y2="393.1" stroke="#1a1a1a" stroke-width="1.1"/>
<text x="175.6" y="395.7" font-size="9.2" text-anchor="end" textLength="17" lengthAdjust="spacingAndGlyphs">1000</text>
<line x1="178.8" y1="419" x2="181.8" y2="419" stroke="#1a1a1a" stroke-width="1.1"/>
<text x="175.6" y="421.6" font-size="9.2" text-anchor="end" textLength="12.8" lengthAdjust="spacingAndGlyphs">100</text>
<line x1="178.8" y1="444.6" x2="181.8" y2="444.6" stroke="#1a1a1a" stroke-width="1.1"/>
<text x="175.6" y="447.2" font-size="9.2" text-anchor="end" textLength="8.5" lengthAdjust="spacingAndGlyphs">10</text>
<text x="151" y="405.5" font-size="9.2" text-anchor="middle" textLength="58.2" lengthAdjust="spacingAndGlyphs" transform="rotate(-90 151 405.5)">Peak IL18 (pg/mL)</text>
<text x="207.8" y="456.2" font-size="9" text-anchor="middle" textLength="10" lengthAdjust="spacingAndGlyphs">CR</text>
<text x="246.3" y="456.2" font-size="9" text-anchor="middle" textLength="23.1" lengthAdjust="spacingAndGlyphs">No CR</text>
<line x1="207.8" y1="444.3" x2="207.8" y2="447.4" stroke="#1a1a1a" stroke-width="1.1"/>
<line x1="246.3" y1="444.3" x2="246.3" y2="447.4" stroke="#1a1a1a" stroke-width="1.1"/>
<line x1="207.8" y1="383.4" x2="207.8" y2="393.2" stroke="#1a1a1a" stroke-width="1.1"/>
<line x1="201.4" y1="383.4" x2="214.2" y2="383.4" stroke="#1a1a1a" stroke-width="1.2"/>
<line x1="201.4" y1="393.2" x2="214.2" y2="393.2" stroke="#1a1a1a" stroke-width="1.2"/>
<line x1="195.8" y1="390.6" x2="219.8" y2="390.6" stroke="#1a1a1a" stroke-width="1.3"/>
<circle cx="207.8" cy="382.4" r="2" fill="#c90e2e"/>
<circle cx="213.7" cy="381.7" r="2" fill="#c90e2e"/>
<circle cx="207.8" cy="387.2" r="2" fill="#c90e2e"/>
<circle cx="196.2" cy="391.1" r="2" fill="#c90e2e"/>
<circle cx="201.9" cy="391.1" r="2" fill="#c90e2e"/>
<circle cx="207.8" cy="391.1" r="2" fill="#c90e2e"/>
<circle cx="213.7" cy="391.1" r="2" fill="#c90e2e"/>
<circle cx="219.2" cy="391.1" r="2" fill="#c90e2e"/>
<circle cx="207.8" cy="393.7" r="2" fill="#c90e2e"/>
<circle cx="207.8" cy="401.4" r="2" fill="#c90e2e"/>
<path d="M201.7 381.92L203.6 385.22L199.8 385.22Z" fill="#0c4585"/>
<line x1="246.8" y1="394" x2="246.8" y2="403.1" stroke="#1a1a1a" stroke-width="1.1"/>
<line x1="240.5" y1="394" x2="253.1" y2="394" stroke="#1a1a1a" stroke-width="1.2"/>
<line x1="240.5" y1="403.1" x2="253.1" y2="403.1" stroke="#1a1a1a" stroke-width="1.2"/>
<line x1="234.2" y1="396.1" x2="259.4" y2="396.1" stroke="#1a1a1a" stroke-width="1.3"/>
<circle cx="246.8" cy="386.3" r="2" fill="#c90e2e"/>
<circle cx="247.2" cy="393.7" r="2" fill="#c90e2e"/>
<circle cx="253.1" cy="394.4" r="2" fill="#c90e2e"/>
<circle cx="246.8" cy="404.2" r="2" fill="#c90e2e"/>
<path d="M240.2 392.42L242.1 395.72L238.3 395.72Z" fill="#0c4585"/>
<path d="M243.9 397.92L245.8 401.22L242 401.22Z" fill="#0c4585"/>
<path d="M250 396.82L251.9 400.12L248.1 400.12Z" fill="#0c4585"/>
<path d="M246.8 409.52L248.7 412.82L244.9 412.82Z" fill="#0c4585"/>
<line x1="206.5" y1="368.3" x2="242.8" y2="368.3" stroke="#1a1a1a" stroke-width="1.2"/>
<line x1="206.5" y1="365.2" x2="206.5" y2="371.6" stroke="#1a1a1a" stroke-width="1.2"/>
<line x1="242.8" y1="365.2" x2="242.8" y2="371.6" stroke="#1a1a1a" stroke-width="1.2"/>
<path d="M224.8 361.7 L225.33 362.97 L226.7 363.08 L225.66 363.98 L225.98 365.32 L224.8 364.6 L223.62 365.32 L223.94 363.98 L222.9 363.08 L224.27 362.97Z" fill="#111"/>
<text x="264" y="440.8" font-size="8.2" text-anchor="end" textLength="18" lengthAdjust="spacingAndGlyphs">n=18</text>
<text x="279.56" y="357" font-size="11.1" textLength="3.47" lengthAdjust="spacingAndGlyphs" font-weight="bold" fill="#000" stroke="#000">I</text>
<line x1="308.9" y1="363.8" x2="308.9" y2="444.9" stroke="#1a1a1a" stroke-width="1.35"/>
<line x1="308.3" y1="444.3" x2="386.6" y2="444.3" stroke="#1a1a1a" stroke-width="1.35"/>
<line x1="305.9" y1="367.5" x2="308.9" y2="367.5" stroke="#1a1a1a" stroke-width="1.1"/>
<text x="302.7" y="370.1" font-size="9.2" text-anchor="end" textLength="12.8" lengthAdjust="spacingAndGlyphs">100</text>
<line x1="305.9" y1="393.1" x2="308.9" y2="393.1" stroke="#1a1a1a" stroke-width="1.1"/>
<text x="302.7" y="395.7" font-size="9.2" text-anchor="end" textLength="8.5" lengthAdjust="spacingAndGlyphs">10</text>
<line x1="305.9" y1="419" x2="308.9" y2="419" stroke="#1a1a1a" stroke-width="1.1"/>
<text x="302.7" y="421.6" font-size="9.2" text-anchor="end" textLength="4.2" lengthAdjust="spacingAndGlyphs">1</text>
<line x1="305.9" y1="444.6" x2="308.9" y2="444.6" stroke="#1a1a1a" stroke-width="1.1"/>
<text x="302.7" y="447.2" font-size="9.2" text-anchor="end" textLength="10.6" lengthAdjust="spacingAndGlyphs">0.1</text>
<text x="287.8" y="405.5" font-size="9.2" text-anchor="middle" textLength="55.4" lengthAdjust="spacingAndGlyphs" transform="rotate(-90 287.8 405.5)">Peak IL2 (pg/mL)</text>
<text x="335" y="456.2" font-size="9" text-anchor="middle" textLength="10" lengthAdjust="spacingAndGlyphs">CR</text>
<text x="374.4" y="456.2" font-size="9" text-anchor="middle" textLength="23.1" lengthAdjust="spacingAndGlyphs">No CR</text>
<line x1="335" y1="444.3" x2="335" y2="447.4" stroke="#1a1a1a" stroke-width="1.1"/>
<line x1="374.4" y1="444.3" x2="374.4" y2="447.4" stroke="#1a1a1a" stroke-width="1.1"/>
<line x1="335" y1="385.6" x2="335" y2="407.1" stroke="#1a1a1a" stroke-width="1.1"/>
<line x1="328.4" y1="385.6" x2="341.6" y2="385.6" stroke="#1a1a1a" stroke-width="1.2"/>
<line x1="328.4" y1="407.1" x2="341.6" y2="407.1" stroke="#1a1a1a" stroke-width="1.2"/>
<line x1="322.1" y1="400.5" x2="347.9" y2="400.5" stroke="#1a1a1a" stroke-width="1.3"/>
<circle cx="341.6" cy="374.7" r="2" fill="#c90e2e"/>
<circle cx="335" cy="377.2" r="2" fill="#c90e2e"/>
<circle cx="338.7" cy="385" r="2" fill="#c90e2e"/>
<circle cx="331.5" cy="387.4" r="2" fill="#c90e2e"/>
<circle cx="331.7" cy="400.3" r="2" fill="#c90e2e"/>
<circle cx="338.7" cy="399.9" r="2" fill="#c90e2e"/>
<circle cx="335" cy="404.2" r="2" fill="#c90e2e"/>
<circle cx="328.4" cy="406.9" r="2" fill="#c90e2e"/>
<circle cx="341.6" cy="407.1" r="2" fill="#c90e2e"/>
<circle cx="335" cy="418.5" r="2" fill="#c90e2e"/>
<path d="M335 389.12L336.9 392.42L333.1 392.42Z" fill="#0c4585"/>
<path d="M335 407.72L336.9 411.02L333.1 411.02Z" fill="#0c4585"/>
<line x1="374.4" y1="406.9" x2="374.4" y2="422.2" stroke="#1a1a1a" stroke-width="1.1"/>
<line x1="366.8" y1="406.9" x2="382" y2="406.9" stroke="#1a1a1a" stroke-width="1.2"/>
<line x1="366.8" y1="422.2" x2="382" y2="422.2" stroke="#1a1a1a" stroke-width="1.2"/>
<line x1="361.6" y1="416.3" x2="387.2" y2="416.3" stroke="#1a1a1a" stroke-width="1.3"/>
<circle cx="367.2" cy="406.9" r="2" fill="#c90e2e"/>
<circle cx="382.1" cy="406.9" r="2" fill="#c90e2e"/>
<circle cx="374.4" cy="409.3" r="2" fill="#c90e2e"/>
<circle cx="363" cy="422.8" r="2" fill="#c90e2e"/>
<path d="M374.4 411.62L376.3 414.92L372.5 414.92Z" fill="#0c4585"/>
<path d="M370.5 418.02L372.4 421.32L368.6 421.32Z" fill="#0c4585"/>
<path d="M378.1 421.32L380 424.62L376.2 424.62Z" fill="#0c4585"/>
<path d="M386 419.72L387.9 423.02L384.1 423.02Z" fill="#0c4585"/>
<line x1="334.9" y1="366.3" x2="370.3" y2="366.3" stroke="#1a1a1a" stroke-width="1.2"/>
<line x1="334.9" y1="363.2" x2="334.9" y2="369.6" stroke="#1a1a1a" stroke-width="1.2"/>
<line x1="370.3" y1="363.2" x2="370.3" y2="369.6" stroke="#1a1a1a" stroke-width="1.2"/>
<path d="M350.8 360.1 L351.33 361.37 L352.7 361.48 L351.66 362.38 L351.98 363.72 L350.8 363 L349.62 363.72 L349.94 362.38 L348.9 361.48 L350.27 361.37Z" fill="#111"/>
<path d="M355.6 360.1 L356.13 361.37 L357.5 361.48 L356.46 362.38 L356.78 363.72 L355.6 363 L354.42 363.72 L354.74 362.38 L353.7 361.48 L355.07 361.37Z" fill="#111"/>
<text x="403.76" y="357" font-size="11.1" textLength="5.18" lengthAdjust="spacingAndGlyphs" font-weight="bold" fill="#000" stroke="#000">J</text>
<line x1="433.2" y1="363.8" x2="433.2" y2="444.9" stroke="#1a1a1a" stroke-width="1.35"/>
<line x1="432.6" y1="444.3" x2="512.6" y2="444.3" stroke="#1a1a1a" stroke-width="1.35"/>
<line x1="430.2" y1="366.4" x2="433.2" y2="366.4" stroke="#1a1a1a" stroke-width="1.1"/>
<text x="427" y="369" font-size="9.2" text-anchor="end" textLength="12.8" lengthAdjust="spacingAndGlyphs">100</text>
<line x1="430.2" y1="392" x2="433.2" y2="392" stroke="#1a1a1a" stroke-width="1.1"/>
<text x="427" y="394.6" font-size="9.2" text-anchor="end" textLength="8.5" lengthAdjust="spacingAndGlyphs">10</text>
<line x1="430.2" y1="418.3" x2="433.2" y2="418.3" stroke="#1a1a1a" stroke-width="1.1"/>
<text x="427" y="420.9" font-size="9.2" text-anchor="end" textLength="4.2" lengthAdjust="spacingAndGlyphs">1</text>
<line x1="430.2" y1="444.1" x2="433.2" y2="444.1" stroke="#1a1a1a" stroke-width="1.1"/>
<text x="427" y="446.7" font-size="9.2" text-anchor="end" textLength="10.6" lengthAdjust="spacingAndGlyphs">0.1</text>
<text x="410.8" y="405.5" font-size="9.2" text-anchor="middle" textLength="69.4" lengthAdjust="spacingAndGlyphs" transform="rotate(-90 410.8 405.5)">Peak GMCSF (pg/mL)</text>
<text x="459.6" y="456.2" font-size="9" text-anchor="middle" textLength="10" lengthAdjust="spacingAndGlyphs">CR</text>
<text x="499.4" y="456.2" font-size="9" text-anchor="middle" textLength="23.1" lengthAdjust="spacingAndGlyphs">No CR</text>
<line x1="459.6" y1="444.3" x2="459.6" y2="447.4" stroke="#1a1a1a" stroke-width="1.1"/>
<line x1="499.4" y1="444.3" x2="499.4" y2="447.4" stroke="#1a1a1a" stroke-width="1.1"/>
<line x1="459.4" y1="395.5" x2="459.4" y2="415.2" stroke="#1a1a1a" stroke-width="1.1"/>
<line x1="452.8" y1="395.5" x2="466" y2="395.5" stroke="#1a1a1a" stroke-width="1.2"/>
<line x1="452.8" y1="415.2" x2="466" y2="415.2" stroke="#1a1a1a" stroke-width="1.2"/>
<line x1="447" y1="407.5" x2="471.8" y2="407.5" stroke="#1a1a1a" stroke-width="1.3"/>
<circle cx="455.6" cy="390" r="2" fill="#c90e2e"/>
<circle cx="463.7" cy="390.5" r="2" fill="#c90e2e"/>
<circle cx="459.5" cy="402.7" r="2" fill="#c90e2e"/>
<circle cx="448" cy="406.9" r="2" fill="#c90e2e"/>
<circle cx="455.6" cy="406.9" r="2" fill="#c90e2e"/>
<circle cx="463.7" cy="408.2" r="2" fill="#c90e2e"/>
<circle cx="448" cy="415.8" r="2" fill="#c90e2e"/>
<circle cx="455.6" cy="415.8" r="2" fill="#c90e2e"/>
<circle cx="463.7" cy="415.8" r="2" fill="#c90e2e"/>
<circle cx="471.4" cy="415.8" r="2" fill="#c90e2e"/>
<path d="M455.6 392.42L457.5 395.72L453.7 395.72Z" fill="#0c4585"/>
<path d="M459.5 422.62L461.4 425.92L457.6 425.92Z" fill="#0c4585"/>
<line x1="487" y1="415.8" x2="512" y2="415.8" stroke="#1a1a1a" stroke-width="1.3"/>
<circle cx="487.4" cy="415.8" r="2" fill="#c90e2e"/>
<circle cx="491.1" cy="415.8" r="2" fill="#c90e2e"/>
<circle cx="500.9" cy="415.8" r="2" fill="#c90e2e"/>
<circle cx="511.4" cy="415.8" r="2" fill="#c90e2e"/>
<path d="M495 413.82L496.9 417.12L493.1 417.12Z" fill="#0c4585"/>
<path d="M497.8 413.82L499.7 417.12L495.9 417.12Z" fill="#0c4585"/>
<path d="M504.9 413.82L506.8 417.12L503 417.12Z" fill="#0c4585"/>
<path d="M507.7 413.82L509.6 417.12L505.8 417.12Z" fill="#0c4585"/>
<line x1="460.5" y1="368.3" x2="493.4" y2="368.3" stroke="#1a1a1a" stroke-width="1.2"/>
<line x1="460.5" y1="365.2" x2="460.5" y2="371.6" stroke="#1a1a1a" stroke-width="1.2"/>
<line x1="493.4" y1="365.2" x2="493.4" y2="371.6" stroke="#1a1a1a" stroke-width="1.2"/>
<path d="M477 361.4 L477.53 362.67 L478.9 362.78 L477.86 363.68 L478.18 365.02 L477 364.3 L475.82 365.02 L476.14 363.68 L475.1 362.78 L476.47 362.67Z" fill="#111"/>
<circle cx="141.5" cy="469.3" r="1.8" fill="#c90e2e"/>
<text x="146.3" y="472.3" font-size="8.2" textLength="34.3" lengthAdjust="spacingAndGlyphs">CAR naive</text>
<path d="M195 467.73L196.7 470.68L193.3 470.68Z" fill="#0c4585"/>
<text x="199.6" y="472.3" font-size="8.2" textLength="33.1" lengthAdjust="spacingAndGlyphs">Prior CAR</text>
<text x="245.6" y="472.3" font-size="8.2" textLength="173" lengthAdjust="spacingAndGlyphs">*p-value: &gt;0.01 to &lt;0.05; **p-value: &gt;0.001 to &lt;0.01</text>
<rect x="0.5" y="0.5" width="519" height="479" fill="none" stroke="#000" stroke-width="1.2"/>
</svg>
</body></html>
